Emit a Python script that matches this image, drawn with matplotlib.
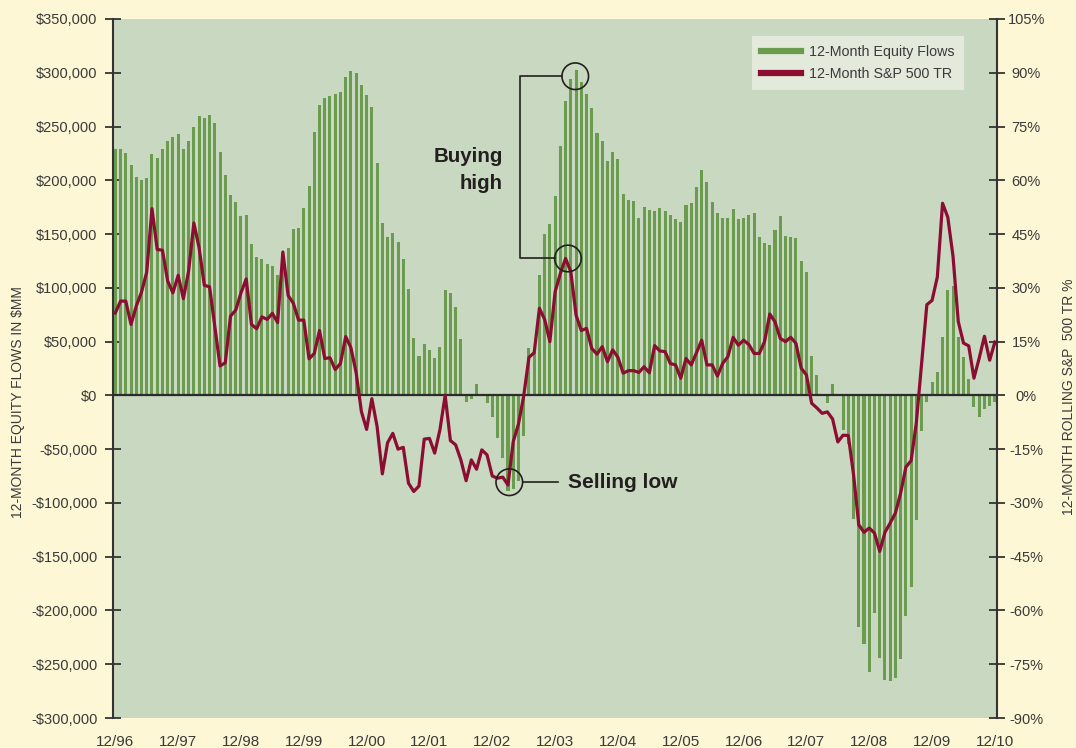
import matplotlib
matplotlib.use("Agg")
import matplotlib.pyplot as plt
import numpy as np
from matplotlib import font_manager
from matplotlib.lines import Line2D
from matplotlib.patches import Circle
from matplotlib.transforms import IdentityTransform

# 12-month equity flows, $ thousands of millions, monthly 12/96 .. 12/10
flows_k = [
    229, 229, 225, 214, 203, 200, 202, 224, 221, 229, 237, 240,
    243, 229, 237, 250, 260, 258, 261, 253, 226, 205, 186, 180,
    167, 168, 141, 129, 127, 122, 120, 112, 125, 137, 155, 156,
    174, 195, 245, 270, 277, 278, 280, 282, 296, 302, 300, 289,
    279, 268, 216, 160, 147, 151, 143, 127, 99, 53, 37, 48,
    42, 35, 45, 98, 95, 82, 52, -6, -3, 11, 0, -7,
    -20, -40, -58, -89, -87, -80, -38, 44, 40, 112, 150, 159,
    185, 232, 274, 294, 303, 291, 280, 267, 244, 237, 218, 226,
    220, 187, 182, 181, 165, 175, 172, 171, 174, 171, 168, 164,
    161, 177, 179, 194, 210, 198, 180, 170, 165, 165, 173, 164,
    165, 168, 170, 147, 142, 140, 154, 167, 148, 147, 146, 125,
    115, 37, 19, 0, -7, 11, 1.5, -32, -45, -115, -215, -231,
    -257, -202, -244, -265, -266, -263, -245, -205, -178, -116, -33, -6,
    12, 22, 54, 98, 102, 54, 36, 15, -11, -20, -13, -10,
    -6,
]

# 12-month rolling S&P 500 total return, %
sp_tr = [
    23.0, 26.3, 26.3, 19.8, 24.9, 28.8, 34.4, 52.1, 40.7, 40.5, 31.9, 28.6,
    33.5, 27.0, 34.7, 48.1, 41.2, 30.7, 30.3, 19.3, 8.2, 9.1, 22.1, 23.8,
    28.6, 32.5, 19.8, 18.6, 21.9, 21.2, 22.9, 20.3, 40.0, 27.9, 25.7, 21.0,
    21.0, 10.2, 11.7, 18.1, 10.3, 10.5, 7.2, 8.9, 16.4, 13.3, 6.3, -4.5,
    -9.5, -0.9, -8.7, -21.9, -13.2, -10.6, -15.0, -14.5, -24.5, -26.8, -25.3, -12.2,
    -12.0, -16.1, -9.6, 0.0, -12.6, -13.8, -18.0, -23.8, -18.0, -20.6, -15.2, -16.6,
    -22.5, -23.1, -22.8, -25.0, -12.9, -8.0, -0.2, 10.6, 11.9, 24.3, 21.2, 15.0,
    28.9, 34.0, 38.2, 34.5, 22.4, 18.1, 18.7, 13.1, 11.5, 13.6, 9.4, 12.7,
    10.6, 6.2, 6.9, 6.9, 6.4, 8.0, 6.3, 13.9, 12.4, 12.2, 8.9, 8.5,
    4.8, 10.3, 8.5, 11.9, 15.4, 8.5, 8.5, 5.4, 8.9, 10.8, 16.2, 14.0,
    15.4, 14.2, 11.7, 11.7, 15.0, 22.7, 20.5, 15.9, 15.0, 16.2, 14.5, 7.6,
    5.7, -2.2, -3.5, -5.0, -4.6, -6.6, -13.0, -11.1, -11.2, -22.1, -36.1, -38.2,
    -37.0, -38.4, -43.5, -38.2, -35.6, -32.8, -27.2, -20.0, -18.2, -7.5, 9.0, 25.3,
    26.5, 33.0, 53.6, 49.7, 38.8, 20.6, 14.6, 13.8, 4.8, 10.4, 16.5, 9.8,
    14.9,
]

year_labels = ["12/96", "12/97", "12/98", "12/99", "12/00", "12/01", "12/02",
               "12/03", "12/04", "12/05", "12/06", "12/07", "12/08", "12/09", "12/10"]
left_ticks = list(range(-300000, 350001, 50000))
right_ticks = list(range(-90, 106, 15))

# months picked out by the annotations
buy_flow_idx = 88
buy_tr_idx = 86
sell_tr_idx = 75

names = {f.name for f in font_manager.fontManager.ttflist}
base = "Liberation Sans Narrow" if "Liberation Sans Narrow" in names else "Liberation Sans"
plt.rcParams["font.family"] = [base, "DejaVu Sans"]

GREEN = "#6a9b4f"
RED = "#8b0d32"
INK = "#3a3a3a"
DARK = "#231f20"

W, H = 1076, 748
fig = plt.figure(figsize=(W / 100, H / 100), dpi=100, facecolor="#fdf7d5")
ax = fig.add_axes([112.7 / W, 30 / H, 884.3 / W, 699 / H])
ax.set_facecolor("#c9d8c0")

x = np.arange(len(flows_k))
flows = np.array(flows_k) * 1000.0
ax.bar(x, flows, width=0.58, color=GREEN, zorder=2)
ax.axhline(0, color="#2b2b2b", lw=1.6, zorder=3)
ax.set_xlim(-0.5, 168.4)
ax.set_ylim(-300000, 350000)

ax2 = ax.twinx()
ax2.plot(x, sp_tr, color=RED, lw=2.3, zorder=4)
ax2.set_ylim(-90, 105)

# ticks and labels
ax.set_yticks(left_ticks, [("-$" if v < 0 else "$") + f"{abs(v):,}" for v in left_ticks])
ax.tick_params(axis="y", direction="inout", length=12, width=1.3, color="#333333",
               labelsize=10.5, labelcolor=INK, pad=5)
ax.set_xticks(np.arange(0, 169, 12), year_labels)
ax.tick_params(axis="x", length=0, labelsize=11, labelcolor=INK, pad=12)

ax2.set_yticks(right_ticks, [f"{v}%" for v in right_ticks])
ax2.tick_params(axis="y", direction="inout", length=12, width=1.3, color="#333333",
                labelsize=10.5, labelcolor=INK, pad=15)
for t in ax2.get_yticklabels():
    t.set_horizontalalignment("center")

for s in ["top", "bottom", "right"]:
    ax.spines[s].set_visible(False)
for s in ["top", "bottom", "left"]:
    ax2.spines[s].set_visible(False)
ax.spines["left"].set_color("#333333")
ax.spines["left"].set_linewidth(1.5)
ax2.spines["right"].set_color("#333333")
ax2.spines["right"].set_linewidth(1.5)

fig.text(18 / W, 1 - 402 / H, "12-MONTH EQUITY FLOWS IN $MM", rotation=90,
         ha="center", va="center", fontsize=10, color=INK)
fig.text(1069 / W, 1 - 397 / H, "12-MONTH ROLLING S&P  500 TR %", rotation=90,
         ha="center", va="center", fontsize=10, color=INK)

handles = [Line2D([], [], color=GREEN, lw=4.5), Line2D([], [], color=RED, lw=4.5)]
leg = ax2.legend(handles, ["12-Month Equity Flows", "12-Month S&P 500 TR"],
                 loc="upper right", bbox_to_anchor=(0.963, 0.976), borderaxespad=0,
                 frameon=True, fancybox=False, facecolor="#e3eadc", edgecolor="none",
                 framealpha=1, fontsize=10.3, handlelength=2.8, handletextpad=0.6,
                 borderpad=0.65, labelspacing=0.55)
for t in leg.get_texts():
    t.set_color(INK)

# annotations, placed in pixels around the data points
ident = IdentityTransform()
r = 13.3
top_x, top_y = ax.transData.transform((buy_flow_idx, flows[buy_flow_idx]))
top_x, top_y = top_x - 0.8, top_y - 6.7
low_x, low_y = ax2.transData.transform((buy_tr_idx, sp_tr[buy_tr_idx]))
low_x = low_x + 2.4
sel_x, sel_y = ax2.transData.transform((sell_tr_idx, sp_tr[sell_tr_idx]))
sel_x, sel_y = sel_x + 1.3, sel_y + 2.8

for cx, cy in [(top_x, top_y), (low_x, low_y), (sel_x, sel_y)]:
    fig.add_artist(Circle((cx, cy), r, fill=False, lw=1.2, edgecolor=DARK,
                          transform=ident, zorder=10))

bx = low_x - 48
fig.add_artist(Line2D([top_x - r, bx, bx, low_x - r], [top_y, top_y, low_y, low_y],
                      color=DARK, lw=1.2, transform=ident, zorder=10))
fig.add_artist(Line2D([sel_x + r, sel_x + 49], [sel_y, sel_y],
                      color=DARK, lw=1.2, transform=ident, zorder=10))

fig.text(bx - 17, top_y - 85.7, "Buying", transform=ident, ha="right", va="baseline",
         fontsize=14.8, fontweight="bold", color=DARK)
fig.text(bx - 17, top_y - 112.3, "high", transform=ident, ha="right", va="baseline",
         fontsize=14.8, fontweight="bold", color=DARK)
fig.text(sel_x + 59, sel_y, "Selling low", transform=ident, ha="left", va="center",
         fontsize=15, fontweight="bold", color=DARK)

fig.savefig("out.png", dpi=100, facecolor=fig.get_facecolor())
